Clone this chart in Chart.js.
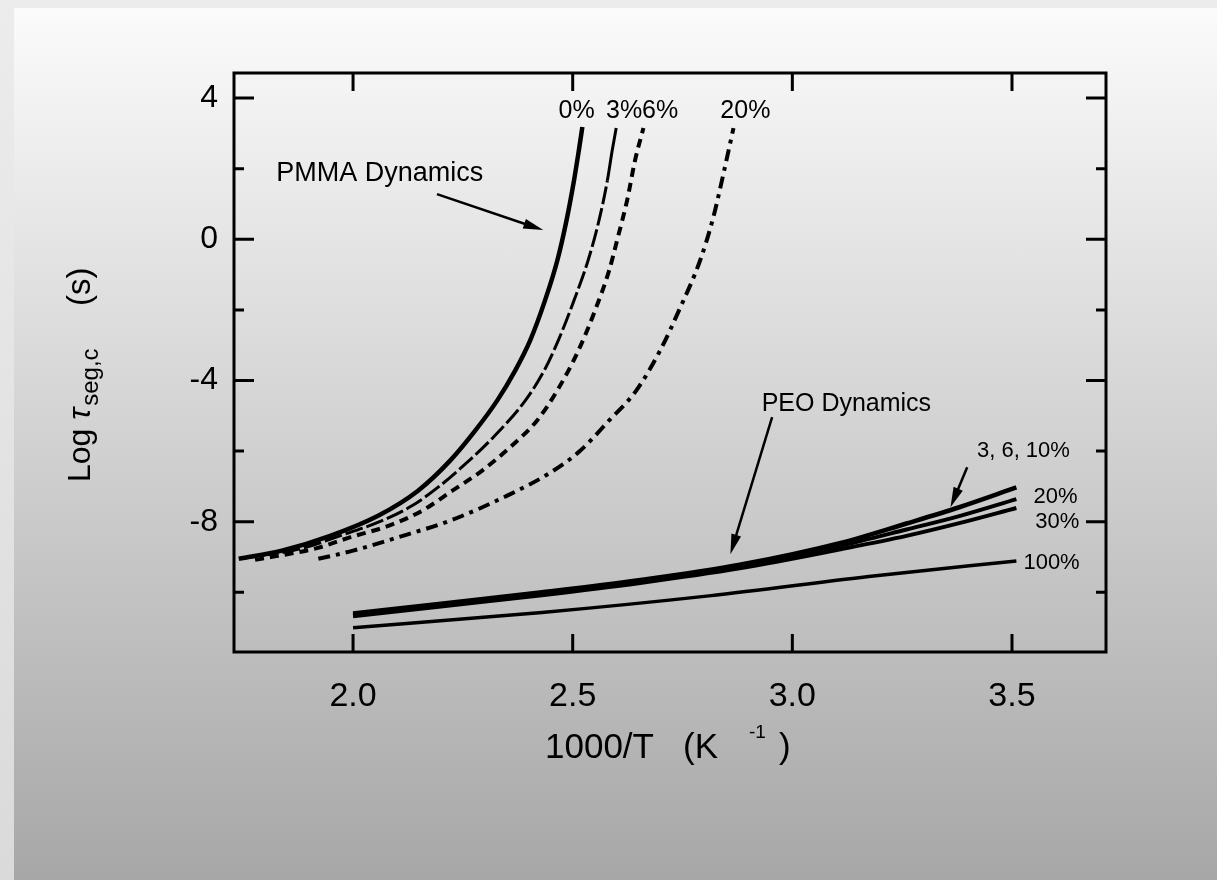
<!DOCTYPE html>
<html>
<head>
<meta charset="utf-8">
<title>Log tau seg,c vs 1000/T</title>
<script src="https://cdn.jsdelivr.net/npm/chart.js@4.4.1/dist/chart.umd.min.js"></script>
<style>
  html, body { margin: 0; padding: 0; }
  body { width: 1217px; height: 880px; position: relative; overflow: hidden;
         background: linear-gradient(to bottom, #ececec 0%, #dadada 100%); }
  #panel { position: absolute; left: 14px; top: 8px; right: 0; bottom: 0;
           background: linear-gradient(to bottom, #fbfbfb 0%, #a7a7a7 100%); }
  #chart { position: absolute; left: 0; top: 0; }
</style>
</head>
<body>
<div id="panel"></div>
<canvas id="chart" width="1217" height="880"></canvas>
<script>
// tick labels
const xTicks = [2.0, 2.5, 3.0, 3.5];
const yMajor = [4, 0, -4, -8];
const yMinor = [2, -2, -6, -10];

// PMMA dynamics
const pmma0X = [1.740, 1.838, 1.948, 2.057, 2.148, 2.221, 2.278, 2.328, 2.369, 2.403, 2.437, 2.465, 2.486, 2.503, 2.514, 2.522];
const pmma0Y = [-9.05, -8.82, -8.40, -7.83, -7.12, -6.27, -5.42, -4.57, -3.72, -2.87, -1.73, -0.60, 0.54, 1.67, 2.52, 3.18];

const pmma3X = [1.740, 1.879, 1.970, 2.066, 2.134, 2.198, 2.264, 2.312, 2.392, 2.435, 2.467, 2.503, 2.535, 2.560, 2.579, 2.590, 2.599];
const pmma3Y = [-9.05, -8.77, -8.40, -7.97, -7.55, -6.98, -6.27, -5.70, -4.57, -3.72, -2.87, -1.73, -0.60, 0.54, 1.67, 2.52, 3.15];

const pmma6X = [1.777, 1.920, 1.991, 2.082, 2.157, 2.226, 2.294, 2.362, 2.419, 2.465, 2.513, 2.551, 2.583, 2.601, 2.624, 2.642, 2.661];
const pmma6Y = [-9.08, -8.74, -8.45, -8.11, -7.69, -7.12, -6.55, -5.84, -5.13, -4.28, -3.15, -2.01, -0.88, -0.03, 1.11, 2.24, 3.15];

const pmma20X = [1.921, 2.000, 2.121, 2.221, 2.351, 2.449, 2.517, 2.583, 2.645, 2.699, 2.745, 2.790, 2.820, 2.845, 2.866];
const pmma20Y = [-9.05, -8.82, -8.37, -7.97, -7.26, -6.61, -5.99, -5.13, -4.28, -3.15, -1.93, -0.60, 0.62, 1.96, 3.15];

// PEO dynamics
const peoX = [2.00, 2.20, 2.43, 2.65, 2.88, 3.11, 3.26, 3.38, 3.51];
const peo3Y = [-10.60, -10.32, -10.00, -9.66, -9.22, -8.60, -8.05, -7.59, -7.03];
const peo20Y = [-10.64, -10.36, -10.04, -9.70, -9.27, -8.68, -8.22, -7.84, -7.36];
const peo30Y = [-10.68, -10.40, -10.08, -9.74, -9.32, -8.78, -8.40, -8.04, -7.61];

const peo100X = [2.00, 2.43, 2.81, 3.19, 3.51];
const peo100Y = [-11.00, -10.57, -10.10, -9.53, -9.11];

const FONT = "'Liberation Sans', Arial, Helvetica, sans-serif";

function pts(xs, ys) {
    return xs.map((x, i) => ({ x: x, y: ys[i] }));
}

function curve(label, xs, ys, width, dash) {
    return {
        label: label,
        data: pts(xs, ys),
        showLine: true,
        borderColor: '#000',
        borderWidth: width,
        borderDash: dash,
        borderCapStyle: 'butt',
        pointRadius: 0,
        fill: false,
        cubicInterpolationMode: 'monotone'
    };
}

// text notes and arrows, placed in data units
const notes = [
    { text: '0%', x: 2.509, y: 3.43, size: 25, align: 'center' },
    { text: '3%6%', x: 2.658, y: 3.43, size: 25, align: 'center' },
    { text: '20%', x: 2.893, y: 3.43, size: 25, align: 'center' },
    { text: 'PMMA Dynamics', x: 1.825, y: 1.65, size: 27, align: 'left' },
    { text: 'PEO Dynamics', x: 3.123, y: -4.85, size: 25, align: 'center' },
    { text: '3, 6, 10%', x: 3.526, y: -6.16, size: 22, align: 'center' },
    { text: '20%', x: 3.549, y: -7.46, size: 22, align: 'left' },
    { text: '30%', x: 3.553, y: -8.17, size: 22, align: 'left' },
    { text: '100%', x: 3.526, y: -9.33, size: 22, align: 'left' }
];
const arrows = [
    { from: [2.191, 1.28], to: [2.433, 0.26] },
    { from: [2.954, -5.04], to: [2.859, -8.92] },
    { from: [3.398, -6.46], to: [3.360, -7.59] }
];

const framePlugin = {
    id: 'frame',
    afterDatasetsDraw(chart) {
        const ctx = chart.ctx;
        const a = chart.chartArea;
        const x = chart.scales.x, y = chart.scales.y;
        ctx.save();
        ctx.strokeStyle = '#000';
        ctx.lineWidth = 3;
        ctx.strokeRect(a.left, a.top, a.right - a.left, a.bottom - a.top);
        ctx.beginPath();
        xTicks.forEach(v => {
            const px = x.getPixelForValue(v);
            ctx.moveTo(px, a.bottom); ctx.lineTo(px, a.bottom - 18);
            ctx.moveTo(px, a.top); ctx.lineTo(px, a.top + 18);
        });
        yMajor.concat(yMinor).forEach(v => {
            const py = y.getPixelForValue(v);
            const len = yMajor.includes(v) ? 20 : 10;
            ctx.moveTo(a.left, py); ctx.lineTo(a.left + len, py);
            ctx.moveTo(a.right, py); ctx.lineTo(a.right - len, py);
        });
        ctx.stroke();

        // notes
        ctx.fillStyle = '#000';
        ctx.textBaseline = 'alphabetic';
        notes.forEach(n => {
            ctx.font = n.size + 'px ' + FONT;
            ctx.textAlign = n.align;
            ctx.fillText(n.text, x.getPixelForValue(n.x), y.getPixelForValue(n.y));
        });

        // arrows
        arrows.forEach(ar => {
            const x0 = x.getPixelForValue(ar.from[0]), y0 = y.getPixelForValue(ar.from[1]);
            const x1 = x.getPixelForValue(ar.to[0]), y1 = y.getPixelForValue(ar.to[1]);
            const ang = Math.atan2(y1 - y0, x1 - x0);
            const hl = 20, hw = 5;
            ctx.lineWidth = 2.5;
            ctx.beginPath();
            ctx.moveTo(x0, y0);
            ctx.lineTo(x1 - hl * 0.8 * Math.cos(ang), y1 - hl * 0.8 * Math.sin(ang));
            ctx.stroke();
            ctx.beginPath();
            ctx.moveTo(x1, y1);
            ctx.lineTo(x1 - hl * Math.cos(ang) + hw * Math.sin(ang), y1 - hl * Math.sin(ang) - hw * Math.cos(ang));
            ctx.lineTo(x1 - hl * Math.cos(ang) - hw * Math.sin(ang), y1 - hl * Math.sin(ang) + hw * Math.cos(ang));
            ctx.closePath();
            ctx.fill();
        });

        // x title: 1000/T (K^-1)
        const x0 = (a.left + a.right) / 2 - 125;
        const ty = 758;
        ctx.textAlign = 'left';
        ctx.font = '35px ' + FONT;
        ctx.fillText('1000/T', x0, ty);
        ctx.fillText('(K', x0 + 138, ty);
        ctx.fillText(')', x0 + 234, ty);
        ctx.font = '19px ' + FONT;
        ctx.fillText('-1', x0 + 204, ty - 20);

        // y title: Log tau_seg,c (s)
        ctx.save();
        ctx.translate(90, 482);
        ctx.rotate(-Math.PI / 2);
        ctx.font = '32px ' + FONT;
        ctx.fillText('Log ', 0, 0);
        let off = ctx.measureText('Log ').width;
        ctx.font = 'italic 32px ' + FONT;
        ctx.fillText('\u03C4', off, 0);
        off += ctx.measureText('\u03C4').width + 2;
        ctx.font = '24px ' + FONT;
        ctx.fillText('seg,c', off, 8);
        ctx.font = '33px ' + FONT;
        ctx.fillText('(s)', 176, 0);
        ctx.restore();

        ctx.restore();
    }
};

new Chart(document.getElementById('chart'), {
    type: 'scatter',
    data: {
        datasets: [
            curve('PMMA 0%', pmma0X, pmma0Y, 4.5, []),
            Object.assign(curve('PMMA 3%', pmma3X, pmma3Y, 3, [18, 4]), {
                segment: { borderDash: c => c.p0.parsed.y >= 1.6 ? [] : [18, 4] }
            }),
            curve('PMMA 6%', pmma6X, pmma6Y, 4, [9, 6]),
            curve('PMMA 20%', pmma20X, pmma20Y, 4, [12, 6, 4, 6]),
            curve('PEO 3, 6, 10%', peoX, peo3Y, 4.5, []),
            curve('PEO 20%', peoX, peo20Y, 4, []),
            curve('PEO 30%', peoX, peo30Y, 4, []),
            curve('PEO 100%', peo100X, peo100Y, 3.5, [])
        ]
    },
    options: {
        responsive: false,
        animation: false,
        layout: { padding: { left: 0, top: 73, right: 111, bottom: 0 } },
        plugins: {
            legend: { display: false },
            tooltip: { enabled: false }
        },
        scales: {
            x: {
                type: 'linear',
                min: 1.729,
                max: 3.714,
                grid: { display: false, drawTicks: false },
                border: { display: false },
                afterBuildTicks: axis => { axis.ticks = xTicks.map(v => ({ value: v })); },
                afterFit: axis => { axis.height = 228; },
                ticks: {
                    padding: 24,
                    color: '#000',
                    font: { family: FONT, size: 34 },
                    callback: v => Number(v).toFixed(1)
                }
            },
            y: {
                type: 'linear',
                min: -11.69,
                max: 4.71,
                grid: { display: false, drawTicks: false },
                border: { display: false },
                afterBuildTicks: axis => { axis.ticks = yMajor.map(v => ({ value: v })); },
                afterFit: axis => { axis.width = 234; },
                ticks: {
                    padding: 16,
                    color: '#000',
                    font: { family: FONT, size: 32 },
                    callback: v => String(v)
                }
            }
        }
    },
    plugins: [framePlugin]
});
</script>
</body>
</html>
